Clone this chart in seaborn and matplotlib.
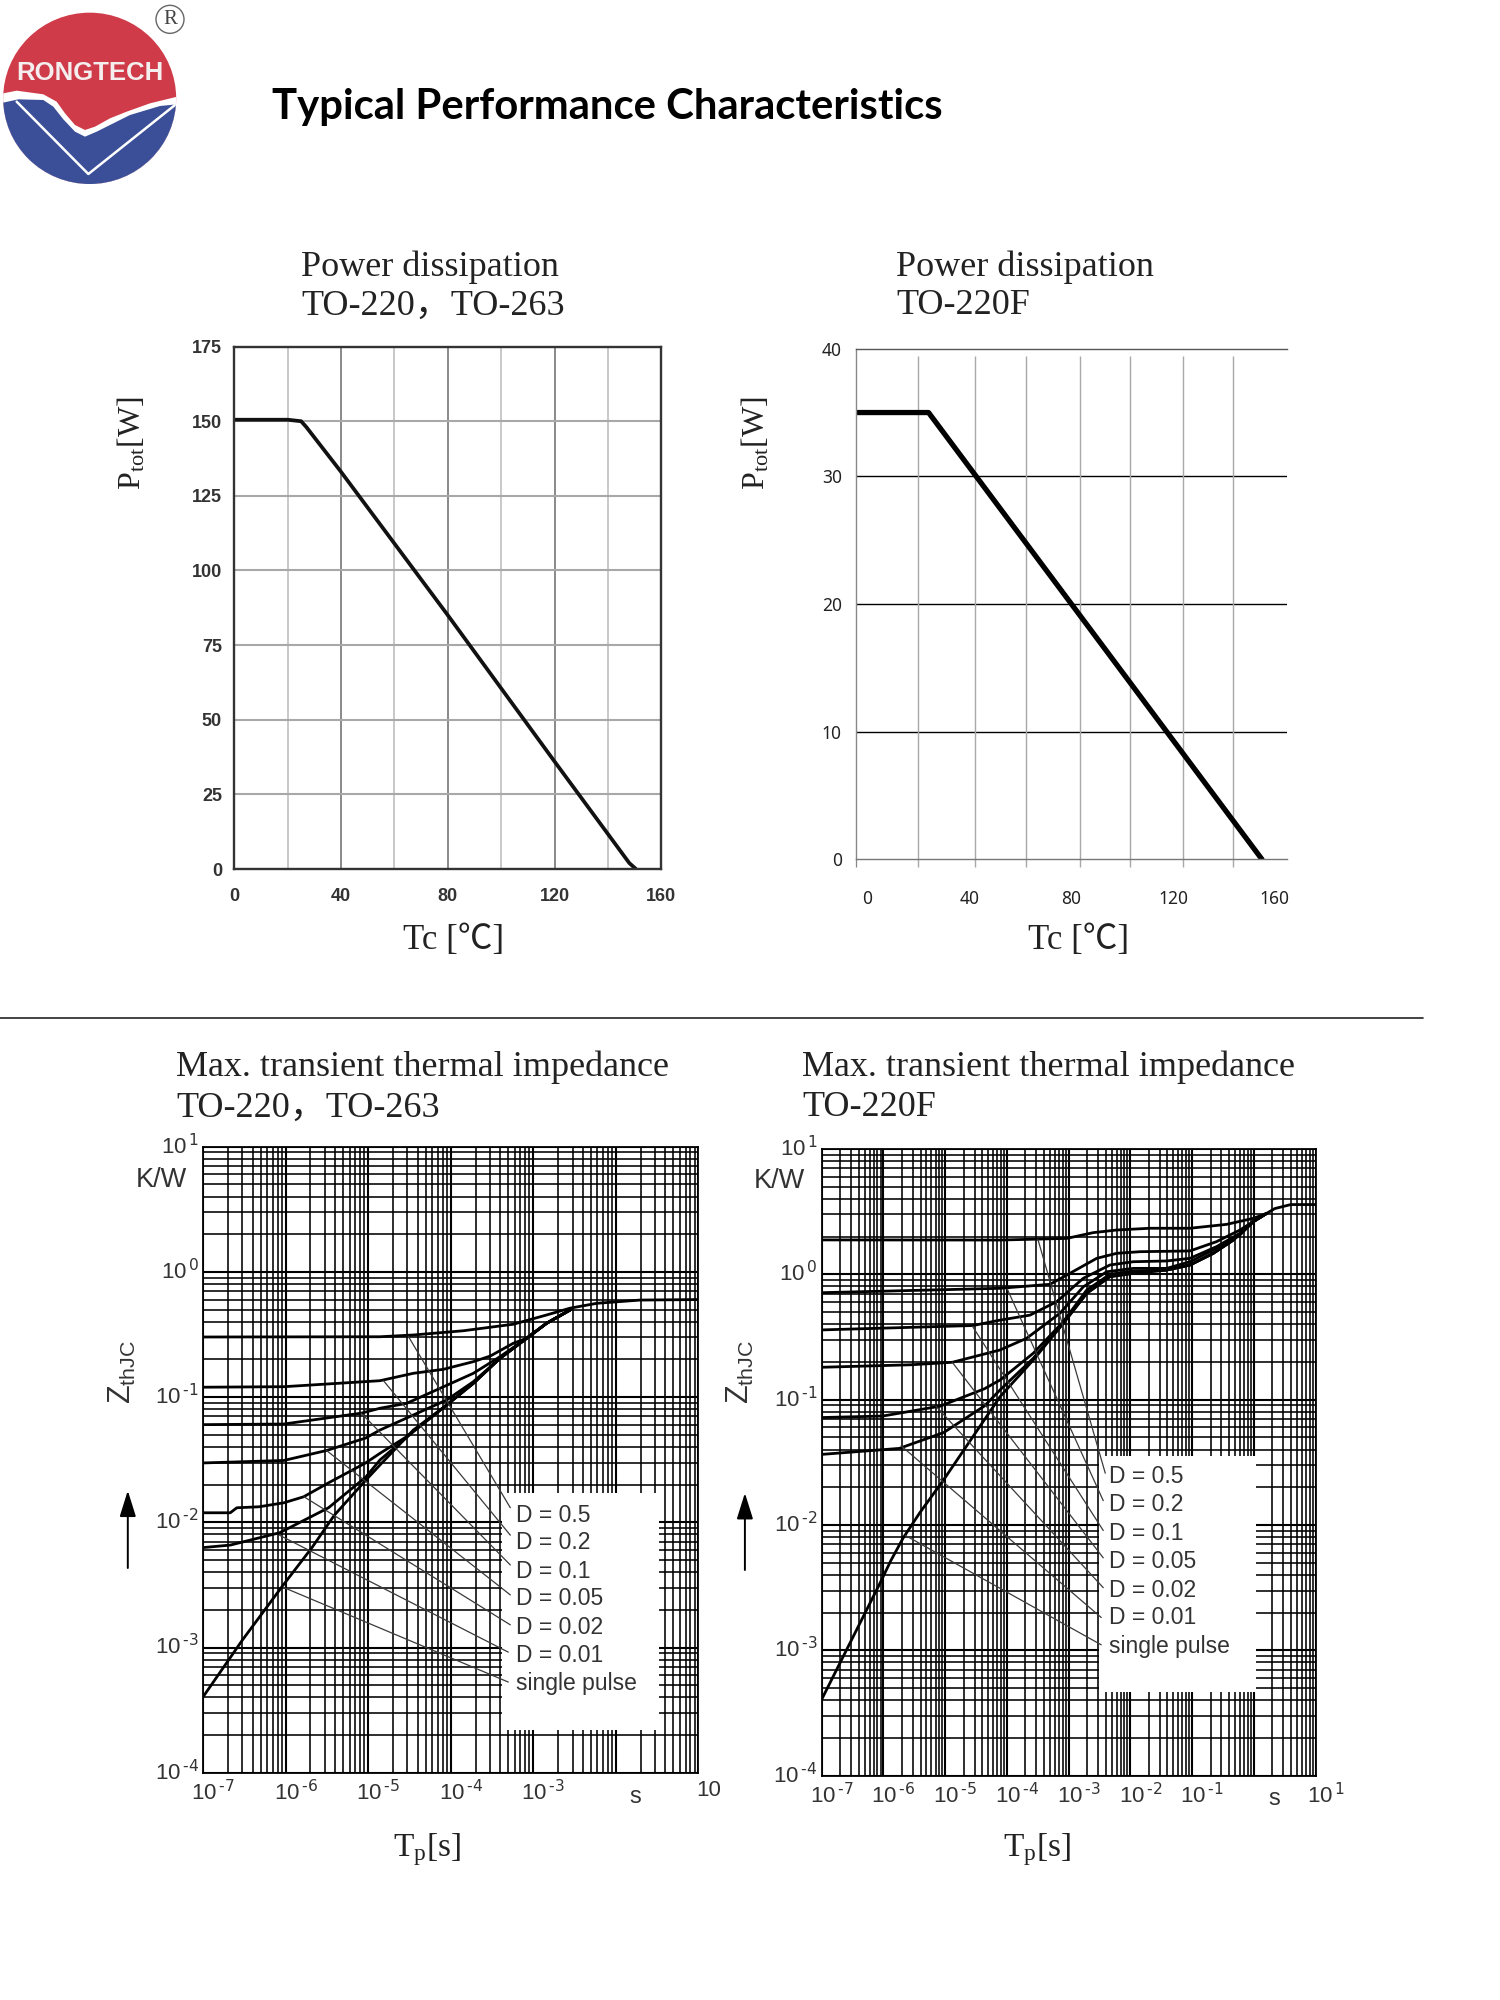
import numpy as np
import pandas as pd
import matplotlib
matplotlib.use("Agg")
import matplotlib.pyplot as plt
import seaborn as sns
from matplotlib.patches import Ellipse, Polygon, Rectangle, FancyArrowPatch
from matplotlib.ticker import LogLocator, NullFormatter, FixedLocator
from matplotlib.transforms import ScaledTranslation

# ---------- data ----------
main_title = "Typical Performance Characteristics"

tc_a = [0, 20, 25, 27, 40, 80, 120, 148, 150.5]
ptot_a = [150.5, 150.5, 150, 148, 133, 85, 36, 2, 0]
xticks_a = [0, 40, 80, 120, 160]
yticks_a = [0, 25, 50, 75, 100, 125, 150, 175]
minor_a = [20, 60, 100, 140]

tc_b = [-4.4, 24, 155]
ptot_b = [35, 35, 0]
xticks_b = [0, 40, 80, 120, 160]
yticks_b = [0, 10, 20, 30, 40]
grid_b = [19.7, 42.1, 62.3, 83.5, 103.1, 123.8, 143.6]

d_labels = ["D = 0.5", "D = 0.2", "D = 0.1", "D = 0.05", "D = 0.02", "D = 0.01", "single pulse"]

# log10 of pulse time and of thermal impedance, TO-220 / TO-263
c_x_05 = [-7, -4.856, -4.452, -3.846, -3.241, -2.837, -2.555, -2.231, -1.706, -1]
c_y_05 = [-0.52, -0.518, -0.504, -0.47, -0.418, -0.344, -0.29, -0.251, -0.225, -0.221]
c_x_02 = [-7, -6.02, -4.856, -4.452, -4.088, -3.725, -3.52, -3.241, -3.079, -2.837, -2.555]
c_y_02 = [-0.921, -0.917, -0.869, -0.81, -0.778, -0.717, -0.672, -0.57, -0.53, -0.41, -0.305]
c_x_01 = [-7, -6.02, -5.08, -4.856, -4.533, -4.129, -3.725, -3.402, -3.079, -2.837, -2.555]
c_y_01 = [-1.22, -1.215, -1.128, -1.089, -1.05, -0.93, -0.81, -0.677, -0.53, -0.41, -0.305]
c_x_005 = [-7, -6.02, -5.5, -5.03, -4.856, -4.452, -4.048, -3.725, -3.402, -3.079, -2.837, -2.555]
c_y_005 = [-1.526, -1.506, -1.426, -1.327, -1.263, -1.143, -1.023, -0.877, -0.69, -0.53, -0.41, -0.305]
c_x_002 = [-7, -6.67, -6.59, -6.32, -6.02, -5.78, -5.48, -5.03, -4.856, -4.533, -4.048, -3.725, -3.402, -3.079, -2.837, -2.555]
c_y_002 = [-1.924, -1.924, -1.884, -1.876, -1.844, -1.796, -1.685, -1.526, -1.449, -1.316, -1.063, -0.89, -0.69, -0.53, -0.41, -0.305]
c_x_001 = [-7, -6.67, -6.07, -5.48, -5.03, -4.856, -4.452, -4.048, -3.725, -3.402, -3.079, -2.837, -2.555]
c_y_001 = [-2.202, -2.182, -2.083, -1.884, -1.64, -1.502, -1.276, -1.063, -0.89, -0.69, -0.53, -0.41, -0.305]
c_x_sp = [-7, -6.52, -6.05, -5.68, -5.41, -5.03, -4.856, -4.452, -4.048, -3.725, -3.402, -3.079, -2.837, -2.555]
c_y_sp = [-3.395, -2.938, -2.52, -2.202, -1.944, -1.665, -1.542, -1.263, -1.063, -0.89, -0.69, -0.53, -0.41, -0.305]

c_lead_x0 = [-4.515, -4.812, -5.084, -5.505, -5.777, -6.074, -6.025]
c_lead_y0 = [-0.512, -0.87, -1.128, -1.426, -1.796, -2.103, -2.52]
c_lead_x1 = [-3.277, -3.277, -3.277, -3.277, -3.277, -3.302, -3.302]
c_lead_y1 = [-1.884, -2.103, -2.341, -2.58, -2.819, -3.037, -3.276]

# log10 of pulse time and of thermal impedance, TO-220F
d_x_05 = [-7, -4.11, -3.03, -2.6, -2.22, -1.68, -1.033, -0.44, -0.008, 0.21, 0.34, 0.60, 1.0]
d_y_05 = [0.274, 0.273, 0.286, 0.332, 0.353, 0.367, 0.367, 0.398, 0.446, 0.486, 0.524, 0.556, 0.556]
d_x_02 = [-7, -4.11, -3.3, -2.976, -2.544, -2.22, -1.844, -1.033, -0.604, -0.223, -0.008, 0.21]
d_y_02 = [-0.147, -0.112, -0.08, 0.008, 0.127, 0.167, 0.18, 0.186, 0.26, 0.353, 0.42, 0.486]
d_x_01 = [-7, -4.55, -4.11, -3.625, -3.193, -2.761, -2.329, -1.951, -1.41, -1.033, -0.604, -0.223, -0.008, 0.21]
d_y_01 = [-0.444, -0.409, -0.366, -0.326, -0.219, -0.032, 0.074, 0.1, 0.106, 0.127, 0.22, 0.327, 0.42, 0.486]
d_x_005 = [-7, -5.55, -4.88, -4.11, -3.68, -3.139, -2.761, -2.382, -1.951, -1.41, -1.033, -0.604, -0.223, -0.008, 0.21]
d_y_005 = [-0.742, -0.722, -0.702, -0.604, -0.511, -0.311, -0.1, 0.02, 0.047, 0.047, 0.1, 0.207, 0.313, 0.42, 0.486]
d_x_002 = [-7, -6.01, -5.08, -4.36, -4.11, -3.571, -3.085, -2.706, -2.329, -1.951, -1.41, -1.033, -0.656, -0.332, -0.008, 0.21]
d_y_002 = [-1.143, -1.131, -1.052, -0.913, -0.844, -0.63, -0.378, -0.126, 0.0, 0.026, 0.034, 0.074, 0.167, 0.273, 0.42, 0.486]
d_x_001 = [-7, -5.74, -5.02, -4.36, -4.11, -3.571, -3.085, -2.706, -2.329, -1.951, -1.41, -1.033, -0.656, -0.332, -0.008, 0.21]
d_y_001 = [-1.437, -1.389, -1.262, -1.05, -0.923, -0.67, -0.391, -0.152, -0.019, 0.008, 0.034, 0.074, 0.167, 0.273, 0.42, 0.486]
d_x_sp = [-7, -6.07, -5.876, -5.678, -5.413, -5.017, -4.11, -3.571, -3.085, -2.706, -2.329, -1.951, -1.41, -1.033, -0.656, -0.332, -0.008, 0.21]
d_y_sp = [-3.393, -2.48, -2.282, -2.103, -1.905, -1.635, -0.977, -0.684, -0.391, -0.152, -0.019, 0.008, 0.034, 0.074, 0.167, 0.273, 0.42, 0.486]

d_lead_x0 = [-3.496, -3.992, -4.554, -4.884, -5.149, -5.711, -5.645]
d_lead_y0 = [0.278, -0.119, -0.417, -0.702, -1.052, -1.369, -2.083]
d_lead_x1 = [-2.405, -2.438, -2.438, -2.438, -2.438, -2.471, -2.471]
d_lead_y1 = [-1.587, -1.806, -2.044, -2.262, -2.5, -2.738, -2.956]


def power(e):
    return "10$^{\\,\\text{%s}}$" % e


c_xtick_exp = [-7, -6, -5, -4, -3, -2, -1]
c_xtick_labels = [power("-7"), power("-6"), power("-5"), power("-4"), power("-3"), "", "10"]
d_xtick_exp = [-7, -6, -5, -4, -3, -2, -1, 0, 1]
d_xtick_labels = [power("-7"), power("-6"), power("-5"), power("-4"), power("-3"),
                  power("-2"), power("-1"), "", power("1")]
ytick_exp = [-4, -3, -2, -1, 0, 1]
ytick_labels = [power("-4"), power("-3"), power("-2"), power("-1"), power("0"), power("1")]

# ---------- style ----------
sns.set_theme(style="white")
SANS = ["Liberation Sans", "Noto Sans CJK SC"]
SERIF = ["Liberation Serif", "Noto Sans CJK SC"]
plt.rcParams["font.family"] = SANS
plt.rcParams["mathtext.default"] = "regular"
plt.rcParams["axes.unicode_minus"] = False

W, H = 1500, 2000
fig = plt.figure(figsize=(W / 100, H / 100), dpi=100, facecolor="white")


def px_axes(l, r, t, b, **kw):
    return fig.add_axes([l / W, 1 - b / H, (r - l) / W, (b - t) / H], **kw)


def ftext(x, y, s, **kw):
    kw.setdefault("ha", "center")
    kw.setdefault("va", "center")
    kw.setdefault("color", "#1a1a1a")
    return fig.text(x / W, 1 - y / H, s, **kw)


def draw_line(ax, x, y, lw, color="black", zorder=2.2):
    frame = pd.DataFrame({"x": x, "y": y})
    sns.lineplot(data=frame, x="x", y="y", ax=ax, estimator=None, sort=False,
                 color=color, linewidth=lw, zorder=zorder, legend=False)
    ax.set_xlabel("")
    ax.set_ylabel("")


# ---------- logo ----------
logo = px_axes(0, 200, 0, 200)
logo.set_xlim(0, 600)
logo.set_ylim(600, 0)
logo.axis("off")
disc = Ellipse((269, 295), 519, 514, facecolor="#cf3b48", edgecolor="none")
logo.add_patch(disc)
wave_top = [(0, 282), (50, 272), (130, 283), (170, 305), (195, 340), (225, 375), (255, 390), (285, 380),
            (330, 355), (380, 335), (450, 310), (540, 288), (540, 600), (0, 600)]
wave_blue = [(0, 310), (55, 298), (130, 300), (160, 320), (190, 358), (225, 395), (255, 410), (290, 395),
             (340, 370), (390, 345), (480, 318), (540, 312), (540, 600), (0, 600)]
for pts, col in [(wave_top, "white"), (wave_blue, "#3a4f98")]:
    poly = Polygon(pts, closed=True, facecolor=col, edgecolor="none")
    logo.add_patch(poly)
    poly.set_clip_path(disc)
v_line, = logo.plot([50, 265, 525], [305, 522, 315], color="white", lw=1.8)
v_line.set_clip_path(disc)
logo.text(270, 220, "RONGTECH", color="#f4eeee", family=["Liberation Sans"], fontsize=18.5,
          fontweight="bold", ha="center", va="center")
logo.add_patch(Ellipse((510, 58), 84, 84, facecolor="none", edgecolor="#666666", lw=1))
logo.text(510, 58, "R", family=SERIF, fontsize=15, color="#444444", ha="center", va="center")

# ---------- page titles ----------
ftext(607, 107.5, main_title, family=["Lato"], fontweight="bold", fontsize=30.2, color="black")
fig.add_artist(plt.Line2D([0, 1423 / W], [1 - 1018 / H] * 2, color="#222222", lw=1.2))

for x, y, s in [(301, 267, "Power dissipation"), (301, 306, "TO-220，TO-263"),
                (896, 267, "Power dissipation"), (896, 306, "TO-220F"),
                (176, 1067, "Max. transient thermal impedance"), (176, 1108, "TO-220，TO-263"),
                (802, 1067, "Max. transient thermal impedance"), (802, 1107, "TO-220F")]:
    ftext(x, y, s, family=SERIF, fontsize=26, ha="left", color="#222222")

for x in (453.8, 1079):
    ftext(x, 940, "Tc [℃]", family=SERIF, fontsize=25, color="#222222")
for x in (131.6, 756):
    ftext(x, 443, "P$_{tot}$[W]", family=SERIF, fontsize=23, rotation=90, color="#222222")
for x in (426.5, 1037):
    ftext(x, 1850, "T$_{p}$[s]", family=SERIF, fontsize=24, color="#222222")

# ---------- panel A ----------
ax = px_axes(234.4, 661.3, 346.6, 869)
ax.set_xlim(0, 160)
ax.set_ylim(0, 175)
ax.set_xticks(xticks_a)
ax.set_yticks(yticks_a)
ax.set_xticks(minor_a, minor=True)
ax.set_axisbelow(True)
ax.grid(which="major", axis="x", color="#808080", lw=1.3)
ax.grid(which="major", axis="y", color="#a8a8a8", lw=1.5)
ax.grid(which="minor", axis="x", color="#c4c4c4", lw=1.3)
ax.tick_params(which="both", length=0)
ax.tick_params(axis="x", pad=14, labelsize=13, labelcolor="#333333")
ax.tick_params(axis="y", pad=9, labelsize=13, labelcolor="#333333")
for lab in ax.get_xticklabels() + ax.get_yticklabels():
    lab.set_fontweight("bold")
for sp in ax.spines.values():
    sp.set_color("#333333")
    sp.set_linewidth(1.7)
draw_line(ax, tc_a, ptot_a, 2.7, color="#111111")

# ---------- panel B ----------
ax = px_axes(855.6, 1287.2, 348.7, 859.4)
ax.set_xlim(-4.66, 164.9)
ax.set_ylim(0, 40)
ax.set_xticks(xticks_b)
ax.set_yticks(yticks_b)
ax.tick_params(axis="x", length=0, pad=22, labelsize=12.5, labelcolor="#222222")
ax.tick_params(axis="y", length=4, width=0.8, color="#666666", pad=6, labelsize=12.5, labelcolor="#222222")
for lab in ax.get_xticklabels() + ax.get_yticklabels():
    lab.set_family(["Noto Sans"])
ax.hlines([10, 20, 30], -4.66, 164.9, color="black", lw=1.0, zorder=1)
ax.vlines(grid_b, -0.6, 39.4, color="#a8a8a8", lw=1.0, zorder=1, clip_on=False)
ax.vlines([-4.66], -0.6, 0, color="#888888", lw=0.9, clip_on=False)
ax.spines["right"].set_visible(False)
ax.spines["left"].set_color("#888888")
ax.spines["top"].set_color("#555555")
ax.spines["bottom"].set_color("#777777")
for sp in ("left", "top", "bottom"):
    ax.spines[sp].set_linewidth(1.0)
draw_line(ax, tc_b, ptot_b, 3.8)


# ---------- thermal impedance panels ----------
def zth_panel(rect, xlim, xtick_exp, xtick_labels, curves, lead, box, lab_x, lab_y, x_shift):
    ax = px_axes(*rect)
    ax.set_xscale("log")
    ax.set_yscale("log")
    ax.set_xlim(10.0 ** xlim[0], 10.0 ** xlim[1])
    ax.set_ylim(1e-4, 1e1)
    ax.xaxis.set_major_locator(FixedLocator(10.0 ** np.array(xtick_exp, dtype=float)))
    ax.yaxis.set_major_locator(FixedLocator(10.0 ** np.array(ytick_exp, dtype=float)))
    ax.set_xticklabels(xtick_labels)
    ax.set_yticklabels(ytick_labels)
    ax.xaxis.set_minor_locator(LogLocator(base=10, subs=range(2, 10), numticks=30))
    ax.yaxis.set_minor_locator(LogLocator(base=10, subs=range(2, 10), numticks=30))
    ax.xaxis.set_minor_formatter(NullFormatter())
    ax.yaxis.set_minor_formatter(NullFormatter())
    ax.set_axisbelow(True)
    ax.grid(which="major", color="black", lw=1.5)
    ax.grid(which="minor", color="black", lw=1.15)
    ax.tick_params(which="both", length=0)
    ax.tick_params(axis="x", pad=5, labelsize=16, labelcolor="#333333")
    ax.tick_params(axis="y", pad=3, labelsize=16, labelcolor="#333333")
    for lab in ax.get_xticklabels():
        lab.set_transform(lab.get_transform() + ScaledTranslation(x_shift / 100, 0, fig.dpi_scale_trans))
    for lab in ax.get_yticklabels():
        lab.set_transform(lab.get_transform() + ScaledTranslation(0, 3 / 100, fig.dpi_scale_trans))
    for sp in ax.spines.values():
        sp.set_color("black")
        sp.set_linewidth(1.3)
    for xs, ys in curves:
        draw_line(ax, 10.0 ** np.array(xs), 10.0 ** np.array(ys), 2.0)
    ax.add_patch(Rectangle((box[0], box[2]), box[1] - box[0], box[3] - box[2], transform=ax.transAxes,
                           facecolor="white", edgecolor="none", zorder=3))
    for x0, y0, x1, y1 in zip(*lead):
        ax.plot([10.0 ** x0, 10.0 ** x1], [10.0 ** y0, 10.0 ** y1], color="#3a3a3a", lw=0.9, zorder=4)
    for s, y in zip(d_labels, lab_y):
        ax.text(lab_x, y, s, transform=ax.transAxes, fontsize=16.5, color="#333333",
                ha="left", va="center", zorder=5)
    return ax


zth_panel((203, 698.3, 1146.7, 1772.7), (-7, -1), c_xtick_exp, c_xtick_labels,
          [(c_x_05, c_y_05), (c_x_02, c_y_02), (c_x_01, c_y_01), (c_x_005, c_y_005),
           (c_x_002, c_y_002), (c_x_001, c_y_001), (c_x_sp, c_y_sp)],
          (c_lead_x0, c_lead_y0, c_lead_x1, c_lead_y1),
          (0.604, 0.9216, 0.069, 0.447), 0.631,
          [0.411, 0.3675, 0.322, 0.278, 0.232, 0.187, 0.143], 10)
zth_panel((821.6, 1315.5, 1148.9, 1775.7), (-7, 1), d_xtick_exp, d_xtick_labels,
          [(d_x_05, d_y_05), (d_x_02, d_y_02), (d_x_01, d_y_01), (d_x_005, d_y_005),
           (d_x_002, d_y_002), (d_x_001, d_y_001), (d_x_sp, d_y_sp)],
          (d_lead_x0, d_lead_y0, d_lead_x1, d_lead_y1),
          (0.562, 0.880, 0.133, 0.510), 0.581,
          [0.477, 0.4325, 0.387, 0.342, 0.296, 0.252, 0.206], 10)

for x, y in [(161, 1180), (779, 1181)]:
    ftext(x, y, "K/W", fontsize=19.5, color="#333333")
for x, y in [(635.5, 1797), (1274.7, 1799)]:
    ftext(x, y, "s", fontsize=17, color="#333333")
for x in (122.4, 740):
    ftext(x, 1372, "Z$_{thJC}$", fontsize=22, rotation=90, color="#333333")
for x, y0, y1 in [(127.8, 1568, 1490.6), (744.9, 1570, 1493)]:
    fig.add_artist(FancyArrowPatch(
        (x / W, 1 - y0 / H), (x / W, 1 - y1 / H), transform=fig.transFigure,
        arrowstyle="-|>,head_length=0.8,head_width=0.25", mutation_scale=20,
        color="black", lw=1.4, shrinkA=0, shrinkB=0))

fig.savefig("out.png", dpi=100, facecolor="white")
